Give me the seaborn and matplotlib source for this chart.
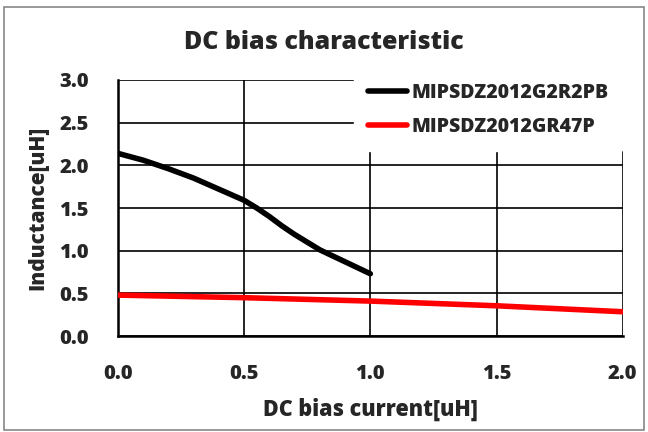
import matplotlib
matplotlib.use("Agg")
import matplotlib.pyplot as plt
import pandas as pd
import seaborn as sns
from matplotlib.patches import Rectangle

# DC bias curves
g2r2_current = [0.0, 0.1, 0.2, 0.3, 0.4, 0.5, 0.55, 0.6, 0.65, 0.7, 0.75, 0.8, 0.9, 1.0]
g2r2_induct = [2.14, 2.06, 1.96, 1.85, 1.72, 1.59, 1.50, 1.40, 1.29, 1.19, 1.10, 1.01, 0.87, 0.73]

gr47_current = [0.0, 0.5, 1.0, 1.5, 2.0]
gr47_induct = [0.48, 0.45, 0.41, 0.355, 0.285]

names = ["MIPSDZ2012G2R2PB", "MIPSDZ2012GR47P"]
colors = ["#000000", "#ff0000"]

x_ticks = [0.0, 0.5, 1.0, 1.5, 2.0]
y_ticks = [0.0, 0.5, 1.0, 1.5, 2.0, 2.5, 3.0]

df = pd.concat([
    pd.DataFrame({"current": g2r2_current, "L": g2r2_induct, "part": names[0]}),
    pd.DataFrame({"current": gr47_current, "L": gr47_induct, "part": names[1]}),
])

sns.set_style("white")
plt.rcParams["font.family"] = ["Open Sans", "DejaVu Sans"]
W = 800

fig = plt.figure(figsize=(6.48, 4.32), dpi=100)
ax = fig.add_axes([0.182, 0.222, 0.779, 0.593])

sns.lineplot(data=df, x="current", y="L", hue="part", palette=colors,
             linewidth=4, ax=ax, sort=False, zorder=3,
             solid_joinstyle="round", solid_capstyle="round")

ax.set_xlim(0, 2.0)
ax.set_ylim(0, 3.0)
ax.set_xticks(x_ticks)
ax.set_yticks(y_ticks)
ax.set_xticklabels([f"{v:.1f}" for v in x_ticks], fontsize=14.5, fontweight=W)
ax.set_yticklabels([f"{v:.1f}" for v in y_ticks], fontsize=14.5, fontweight=W)
ax.tick_params(axis="y", length=0, pad=21)
ax.tick_params(axis="x", length=0, pad=20)
ax.grid(True, color="black", linewidth=1.2)
for s in ax.spines.values():
    s.set_visible(False)
for side in ["left", "bottom"]:
    ax.spines[side].set_visible(True)
    ax.spines[side].set_linewidth(1.8)
    ax.spines[side].set_color("black")

ax.set_xlabel("DC bias current[uH]", fontsize=15.5, fontweight=W, labelpad=10)
ax.set_ylabel("Inductance[uH]", fontsize=15, fontweight=W, labelpad=8)
fig.suptitle("DC bias characteristic", fontsize=18, fontweight=W, y=0.93)

leg = ax.legend(loc="upper right", bbox_to_anchor=(1.0, 1.045), frameon=True,
                fontsize=14, handlelength=2.0, handletextpad=0.2,
                labelspacing=0.7, borderpad=0.75, borderaxespad=0.0)
leg.get_frame().set_facecolor("white")
leg.get_frame().set_edgecolor("white")
leg.get_frame().set_alpha(1)
leg.set_zorder(5)
for t in leg.get_texts():
    t.set_fontweight(W)

# grey chart-area border like the spreadsheet export
fig.patches.append(Rectangle((0.006, 0.005), 0.988, 0.978, transform=fig.transFigure,
                             fill=False, edgecolor="#888888", linewidth=1.2))

fig.savefig("out.png", dpi=100)
